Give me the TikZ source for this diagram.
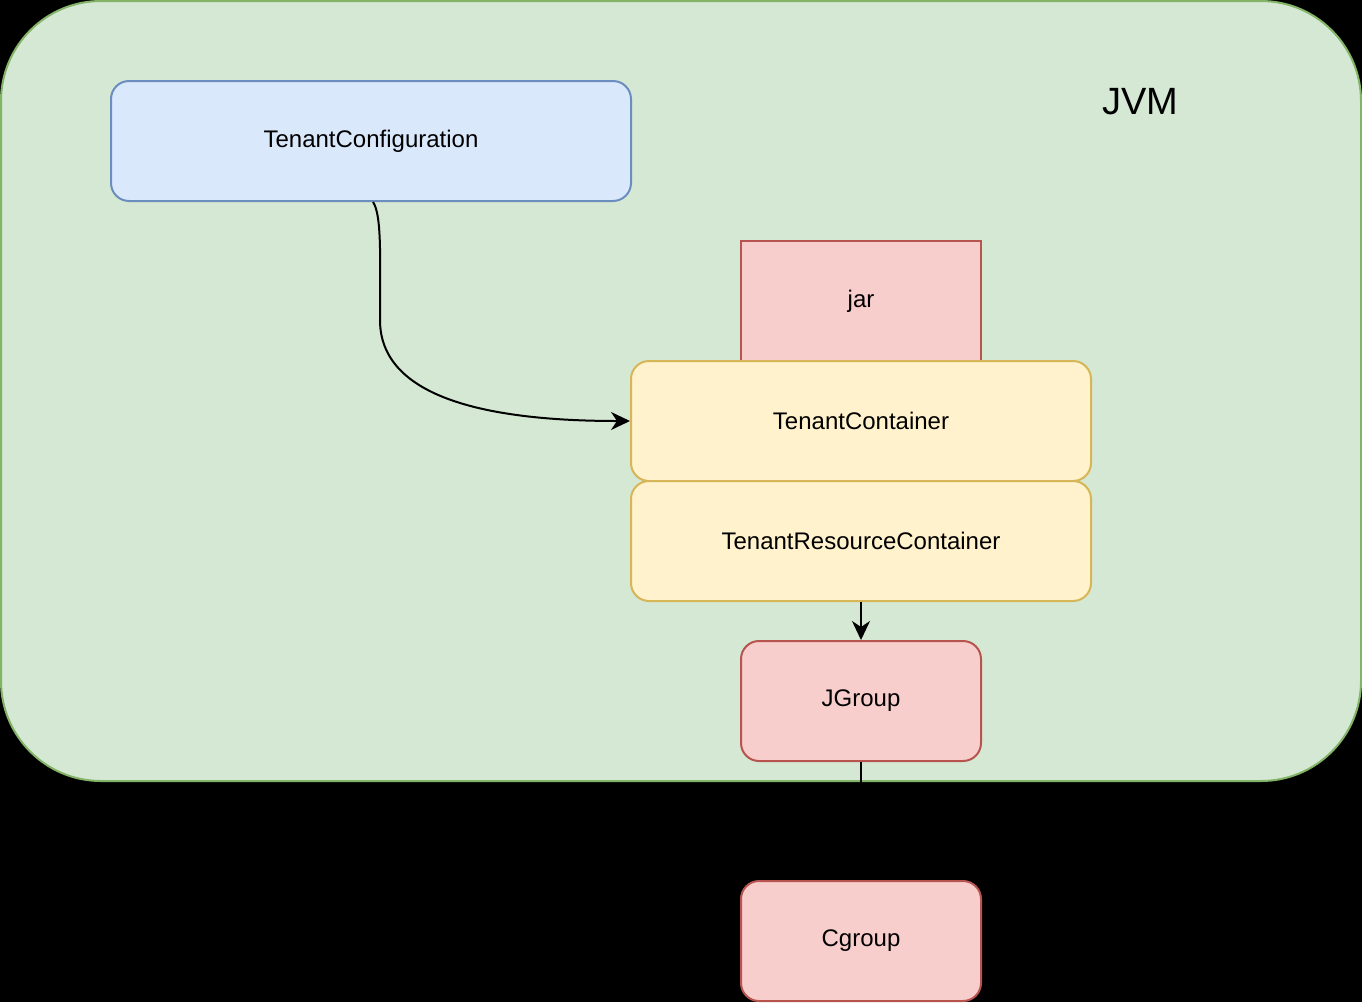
\documentclass[tikz,border=0pt]{standalone}
\usepackage{fontspec}
\setmainfont{Liberation Sans}
\usetikzlibrary{arrows.meta}
\definecolor{gfill}{HTML}{D5E8D4}\definecolor{gline}{HTML}{82B366}
\definecolor{bfill}{HTML}{DAE8FC}\definecolor{bline}{HTML}{6C8EBF}
\definecolor{rfill}{HTML}{F8CECC}\definecolor{rline}{HTML}{B85450}
\definecolor{yfill}{HTML}{FFF2CC}\definecolor{yline}{HTML}{D6B656}
\tikzset{
  box/.style={draw, line width=2pt, inner sep=0pt, font=\fontsize{24}{28}\selectfont, text=black},
  rbox/.style={box, rounded corners=18pt},
  arr/.style={draw=black, line width=2pt, -{Stealth[length=19pt,width=18pt,inset=6pt]}},
}
\begin{document}
\begin{tikzpicture}[x=1pt,y=-1pt]
\useasboundingbox (0,0) rectangle (1362,1002);
\fill[black] (0,0) rectangle (1362,1002);
\draw[fill=gfill, draw=gline, line width=2pt, rounded corners=100pt] (1,1) rectangle (1361,781);
\node[font=\fontsize{38}{44}\selectfont] (jvm) at (1140,102) {JVM};
\node[rbox, fill=bfill, draw=bline, minimum width=520pt, minimum height=120pt] (tc) at (371,141) {TenantConfiguration};
\node[box, fill=rfill, draw=rline, minimum width=240pt, minimum height=120pt] (jar) at (861,301) {jar};
\node[rbox, fill=yfill, draw=yline, minimum width=460pt, minimum height=120pt] (tcont) at (861,421) {TenantContainer};
\node[rbox, fill=yfill, draw=yline, minimum width=460pt, minimum height=120pt] (trc) at (861,541) {TenantResourceContainer};
\node[rbox, fill=rfill, draw=rline, minimum width=240pt, minimum height=120pt] (jg) at (861,701) {JGroup};
\node[rbox, fill=rfill, draw=rline, minimum width=240pt, minimum height=120pt] (cg) at (861,941) {Cgroup};
\draw[arr] (tc.south) ++(2,0) coordinate (s) .. controls (382,215) and (380,260) .. (380,320) .. controls (380,395) and (480,421) .. (tcont.west);
\draw[arr] (trc.south) -- (jg.north);
\draw[arr] (jg.south) -- (cg.north);
\end{tikzpicture}
\end{document}
